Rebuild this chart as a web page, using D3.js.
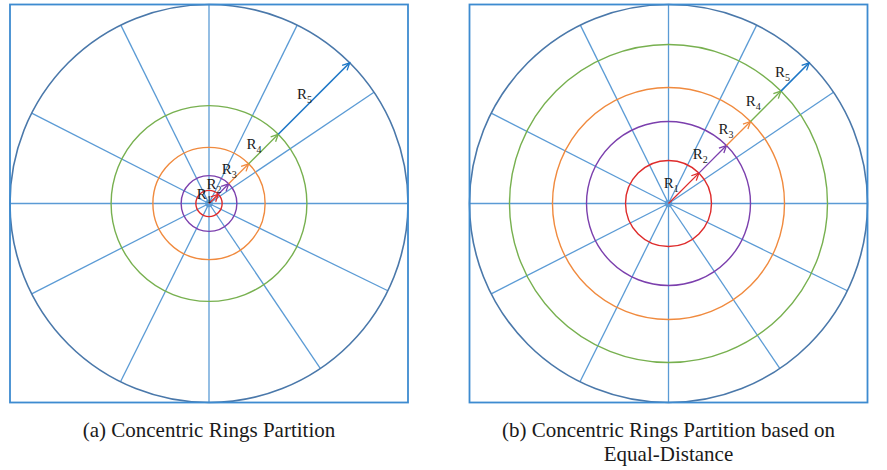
<!DOCTYPE html>
<html lang="en">
<head>
<meta charset="utf-8">
<title>Concentric Rings Partition</title>
<script src="https://cdn.jsdelivr.net/npm/d3@7"></script>
<style>
  body { margin: 0; background: #fff; }
</style>
</head>
<body>
<script>
// spoke directions, degrees counter-clockwise from east
var spokeDeg = [0, 34, 63.7, 90, 116.3, 153, 180, 207, 243.6, 270, 304, 334];
// ring radii as % of the outer radius
var ringsA = [6.6, 14, 28.2, 49.2, 100];
var ringsB = [21.6, 41.2, 58.3, 79.9, 100];
var ringSubs = ["1", "2", "3", "4", "5"];
var ringColors = ["#de2b2b", "#7b3fad", "#f08a3e", "#77b04f", "#4a78aa"];
var arrowColors = ["#de2b2b", "#7b3fad", "#f08a3e", "#77b04f", "#1c76c6"];
var arrowDeg = 45;
var captionA = ["(a) Concentric Rings Partition"];
var captionB = ["(b) Concentric Rings Partition based on", "Equal-Distance"];

var width = 887, height = 470;
var half = 199; // half side of each square panel
var serif = "'Liberation Serif', 'Times New Roman', 'DejaVu Serif', serif";

var svg = d3.select("body").append("svg")
    .attr("width", width)
    .attr("height", height);

var r = d3.scaleLinear().domain([0, 100]).range([0, half]);

function drawPanel(cx, cy, rings, caption, labDx) {
  var g = svg.append("g").attr("transform", "translate(" + cx + "," + cy + ")");

  // spokes
  g.selectAll(".spoke")
    .data(spokeDeg)
    .enter().append("line")
    .attr("x1", 0).attr("y1", 0)
    .attr("x2", function(d) { return r(100) * Math.cos(d * Math.PI / 180); })
    .attr("y2", function(d) { return -r(100) * Math.sin(d * Math.PI / 180); })
    .attr("stroke", "#5b9bd5")
    .attr("stroke-width", 1.3);

  // rings
  g.selectAll(".ring")
    .data(rings)
    .enter().append("circle")
    .attr("r", function(d) { return r(d); })
    .attr("fill", "none")
    .attr("stroke", function(d, i) { return ringColors[i]; })
    .attr("stroke-width", function(d, i) { return i == 4 ? 1.6 : 1.4; });

  // frame
  g.append("rect")
    .attr("x", -half).attr("y", -half)
    .attr("width", half * 2).attr("height", half * 2)
    .attr("fill", "none")
    .attr("stroke", "#3d8bd0")
    .attr("stroke-width", 1.8);

  g.append("circle").attr("r", 3.8).attr("fill", "#5b9bd5");

  // radius arrows along the 45 degree ray
  var ux = Math.cos(arrowDeg * Math.PI / 180), uy = -Math.sin(arrowDeg * Math.PI / 180);
  var segs = rings.map(function(d, i) { return { r0: i ? rings[i - 1] : 0, r1: d, i: i }; });

  var a = g.selectAll(".arrow").data(segs).enter().append("g");
  a.append("line")
    .attr("x1", function(d) { return r(d.r0) * ux; })
    .attr("y1", function(d) { return r(d.r0) * uy; })
    .attr("x2", function(d) { return r(d.r1) * ux; })
    .attr("y2", function(d) { return r(d.r1) * uy; })
    .attr("stroke", function(d) { return arrowColors[d.i]; })
    .attr("stroke-width", function(d) { return d.i == 4 ? 1.6 : 1.3; });
  a.append("path")
    .attr("d", function(d) {
      var tx = r(d.r1) * ux, ty = r(d.r1) * uy, len = 8, sp = 0.45;
      var back = Math.atan2(-uy, -ux);
      var p1 = [tx + len * Math.cos(back + sp), ty + len * Math.sin(back + sp)];
      var p2 = [tx + len * Math.cos(back - sp), ty + len * Math.sin(back - sp)];
      return "M" + p1 + "L" + tx + "," + ty + "L" + p2;
    })
    .attr("fill", "none")
    .attr("stroke", function(d) { return arrowColors[d.i]; })
    .attr("stroke-width", 1.3);

  var lab = a.append("text")
    .attr("x", function(d) { return r((d.r0 + d.r1) / 2) * ux + labDx; })
    .attr("y", function(d) { return r((d.r0 + d.r1) / 2) * uy; })
    .attr("font-family", serif)
    .attr("fill", "#1a1a1a")
    .attr("font-size", "15px");
  lab.append("tspan").text("R");
  lab.append("tspan").attr("dy", 4).attr("font-size", "10px")
    .text(function(d) { return ringSubs[d.i]; });

  // caption
  svg.append("g").selectAll("text")
    .data(caption)
    .enter().append("text")
    .attr("x", cx)
    .attr("y", function(d, i) { return cy + half + 34 + i * 24; })
    .attr("text-anchor", "middle")
    .attr("font-family", serif)
    .attr("fill", "#1a1a1a")
    .attr("font-size", "21px")
    .text(function(d) { return d; });
}

drawPanel(209, 203.5, ringsA, captionA, -17);
drawPanel(668.5, 203.5, ringsB, captionB, -20);
</script>
</body>
</html>
